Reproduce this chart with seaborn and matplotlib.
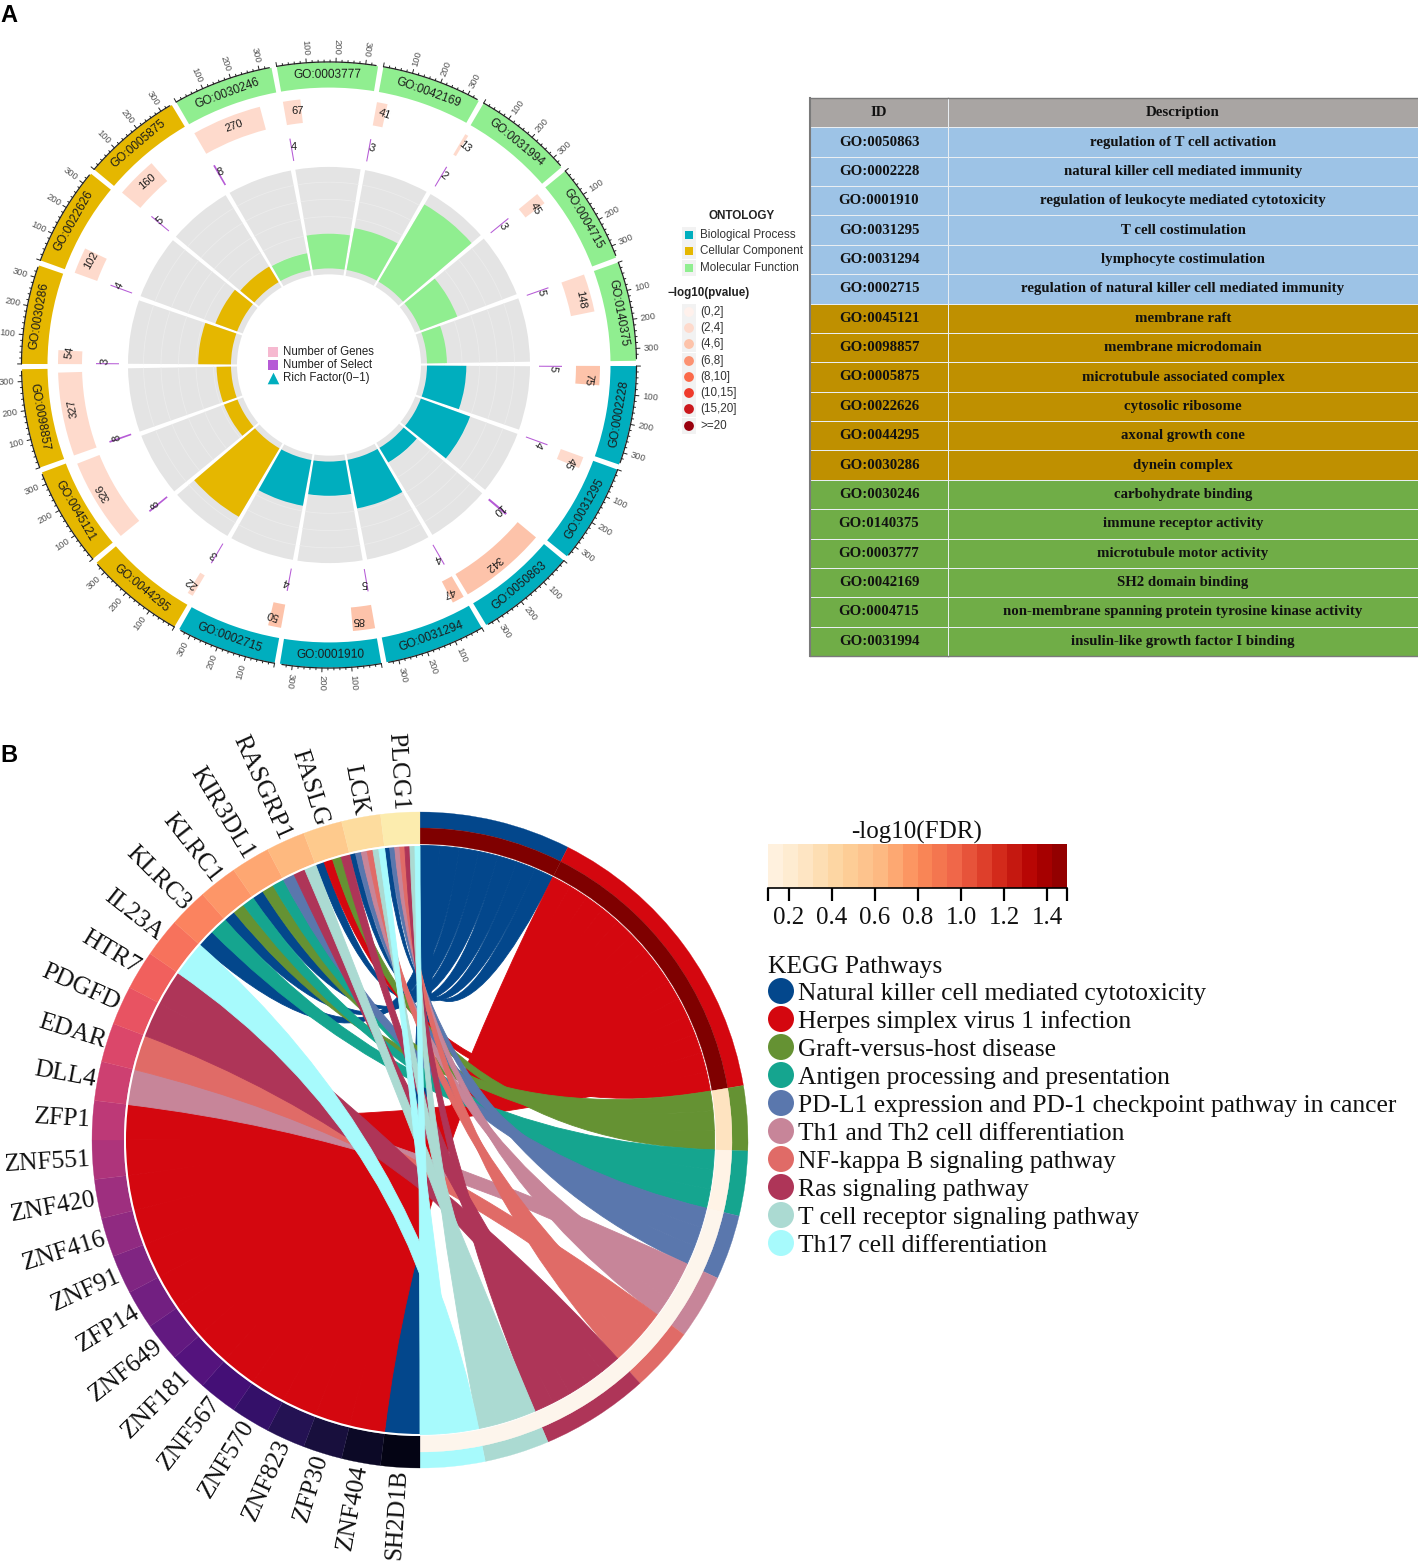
import numpy as np
import pandas as pd
import seaborn as sns
import matplotlib
matplotlib.use('Agg')
import matplotlib.pyplot as plt
from matplotlib.colors import ListedColormap
from matplotlib.patches import PathPatch, Rectangle, Wedge
from matplotlib.path import Path

W, H = 1418, 1561
SANS = 'Liberation Sans'
SERIF = 'Liberation Serif'

# panel A, sectors clockwise from 3 o'clock
go_ids = ['GO:0002228', 'GO:0031295', 'GO:0050863', 'GO:0031294', 'GO:0001910', 'GO:0002715',
          'GO:0044295', 'GO:0045121', 'GO:0098857', 'GO:0030286', 'GO:0022626', 'GO:0005875',
          'GO:0030246', 'GO:0003777', 'GO:0042169', 'GO:0031994', 'GO:0004715', 'GO:0140375']
go_ontology = [0] * 6 + [1] * 6 + [2] * 6
n_genes = [75, 45, 342, 47, 85, 50, 22, 326, 327, 54, 102, 160, 270, 67, 41, 13, 45, 148]
n_select = [5, 4, 10, 4, 5, 4, 3, 8, 8, 3, 4, 5, 8, 4, 3, 2, 3, 5]
gene_pcat = [2, 1, 2, 2, 2, 2, 1, 1, 1, 1, 1, 1, 1, 1, 1, 1, 1, 1]
ontology_names = ['Biological Process', 'Cellular Component', 'Molecular Function']
ontology_colors = ['#00AEBE', '#E5B700', '#90EE90']
pvalue_labels = ['(0,2]', '(2,4]', '(4,6]', '(6,8]', '(8,10]', '(10,15]', '(15,20]', '>=20']
pvalue_colors = ['#FFF1EC', '#FEDACC', '#FDC3AA', '#FC9272', '#FB6A4A', '#EF3B2C', '#CB181D', '#99000D']

# table next to panel A
table_ids = ['GO:0050863', 'GO:0002228', 'GO:0001910', 'GO:0031295', 'GO:0031294', 'GO:0002715',
             'GO:0045121', 'GO:0098857', 'GO:0005875', 'GO:0022626', 'GO:0044295', 'GO:0030286',
             'GO:0030246', 'GO:0140375', 'GO:0003777', 'GO:0042169', 'GO:0004715', 'GO:0031994']
table_desc = ['regulation of T cell activation', 'natural killer cell mediated immunity',
              'regulation of leukocyte mediated cytotoxicity', 'T cell costimulation',
              'lymphocyte costimulation', 'regulation of natural killer cell mediated immunity',
              'membrane raft', 'membrane microdomain', 'microtubule associated complex',
              'cytosolic ribosome', 'axonal growth cone', 'dynein complex',
              'carbohydrate binding', 'immune receptor activity', 'microtubule motor activity',
              'SH2 domain binding', 'non-membrane spanning protein tyrosine kinase activity',
              'insulin-like growth factor I binding']
table_colors = ['#A9A5A3', '#9DC3E6', '#BF9000', '#70AD47']

# panel B, genes clockwise from 6 o'clock
genes = ['SH2D1B', 'ZNF404', 'ZFP30', 'ZNF823', 'ZNF570', 'ZNF567', 'ZNF181', 'ZNF649', 'ZFP14',
         'ZNF91', 'ZNF416', 'ZNF420', 'ZNF551', 'ZFP1', 'DLL4', 'EDAR', 'PDGFD', 'HTR7', 'IL23A',
         'KLRC3', 'KLRC1', 'KIR3DL1', 'RASGRP1', 'FASLG', 'LCK', 'PLCG1']
pathways = ['Natural killer cell mediated cytotoxicity', 'Herpes simplex virus 1 infection',
            'Graft-versus-host disease', 'Antigen processing and presentation',
            'PD-L1 expression and PD-1 checkpoint pathway in cancer', 'Th1 and Th2 cell differentiation',
            'NF-kappa B signaling pathway', 'Ras signaling pathway', 'T cell receptor signaling pathway',
            'Th17 cell differentiation']
pathway_colors = ['#03478C', '#D4070F', '#659233', '#15A58F', '#5A77AD', '#C78599', '#E06B67',
                  '#AE3558', '#ABDAD2', '#A7FAFC']
pathway_fdr = ['#7F0000', '#7F0000', '#FEE3C0', '#FFF3E6', '#FDF5EC', '#FDF5EC', '#FDF5EC', '#FDF5EC',
               '#FDF5EC', '#FDF5EC']
# pathway indices of each gene, same order as genes
gene_links = [[0]] + [[1]] * 13 + [[5], [6], [7], [7], [9], [0, 3], [0, 2, 3], [0, 2, 3], [4, 7, 8],
                                   [0, 1, 2, 7], [0, 4, 5, 6, 8, 9], [0, 4, 5, 6, 7, 8, 9]]

fdr_ticks = [0.2, 0.4, 0.6, 0.8, 1.0, 1.2, 1.4]
fdr_range = [0.102, 1.493]
fdr_cells = 20

sns.set_theme(style='white')
plt.rcParams['font.family'] = [SANS, 'DejaVu Sans']


def box(left, top, width, height):
    return [left / W, 1 - (top + height) / H, width / W, height / H]


fig = plt.figure(figsize=(W / 100, H / 100), dpi=100)

# -------------------- panel A, circular plot --------------------
cx, cy, rx, ry = 329, 365, 345, 340
ax = fig.add_axes(box(cx - rx, cy - ry, 2 * rx, 2 * ry), projection='polar')
ax.set_aspect('auto')
ax.set_theta_zero_location('E')
ax.set_theta_direction(-1)
ax.set_ylim(0, rx)
ax.axis('off')

span = 19.0
unit = span / 342
for i, go in enumerate(go_ids):
    start = 20 * i + 0.2
    col = ontology_colors[go_ontology[i]]
    mid = start + span / 2
    mid_math = -mid

    # id band and its labels
    ax.bar(np.deg2rad(start), 25.5, width=np.deg2rad(span), bottom=281.5, align='edge', color=col, lw=0)
    rot = mid_math - 90 if np.sin(np.deg2rad(mid_math)) > 0 else mid_math + 90
    ax.text(np.deg2rad(mid), 294, go, rotation=rot, rotation_mode='anchor', ha='center', va='center',
            fontsize=8.6, color='#1c1c1c')

    # axis on top of the band
    ticks = np.arange(0, 340, 20)
    ax.plot(np.deg2rad(start + np.linspace(0, 335, 40) * unit), [307.5] * 40, color='#222222', lw=0.9)
    for t in ticks:
        th = np.deg2rad(start + t * unit)
        ax.plot([th, th], [307.5, 311.5 if t % 100 == 0 else 309.5], color='#222222', lw=0.7)
    flip = np.cos(np.deg2rad(mid_math)) < -1e-6
    for t in [100, 200, 300]:
        deg = start + t * unit
        ax.text(np.deg2rad(deg), 315, str(t), rotation=-deg + (180 if flip else 0), rotation_mode='anchor',
                ha='right' if flip else 'left', va='center', fontsize=6.8, color='#555555')

    # number of genes
    w_g = n_genes[i] * unit
    ax.bar(np.deg2rad(start), 24, width=np.deg2rad(w_g), bottom=247, align='edge',
           color=pvalue_colors[gene_pcat[i]], lw=0)
    ax.text(np.deg2rad(start + w_g / 2 + 1.0), 260, str(n_genes[i]), rotation=mid_math - 90,
            rotation_mode='anchor', ha='center', va='center', fontsize=8, color='#1c1c1c')

    # number of select
    w_s = n_select[i] * unit
    ax.bar(np.deg2rad(start), 23, width=np.deg2rad(max(w_s, 0.28)), bottom=210, align='edge', color='#B65BD6', lw=0)
    ax.text(np.deg2rad(start + 0.7), 224, str(n_select[i]), rotation=mid_math - 90, rotation_mode='anchor',
            ha='center', va='center', fontsize=8, color='#1c1c1c')

    # rich factor on grey
    ax.bar(np.deg2rad(start + 0.15), 109, width=np.deg2rad(span - 0.3), bottom=92, align='edge', color='#E4E4E4', lw=0)
    for k in range(1, 6):
        ax.plot(np.deg2rad(np.linspace(start + 0.15, start + span - 0.15, 20)), [98 + 17.5 * k] * 20,
                color='#ECECEC', lw=0.6)
    rich = n_select[i] / n_genes[i]
    ax.bar(np.deg2rad(start + 0.15), rich * 590, width=np.deg2rad(span - 0.3), bottom=98, align='edge',
           color=col, lw=0, zorder=3)

# pixel overlay for legends and panel letters
ov = fig.add_axes([0, 0, 1, 1])
ov.set_xlim(0, W)
ov.set_ylim(H, 0)
ov.axis('off')
ov.patch.set_alpha(0)

ov.text(0, 15, 'A', fontsize=17, fontweight='bold', va='center', color='black')
ov.text(0, 755, 'B', fontsize=17, fontweight='bold', va='center', color='black')

# legend in the hole
for y, label, col in zip([352, 365, 378], ['Number of Genes', 'Number of Select', 'Rich Factor(0\u22121)'],
                         ['#F6B9D0', '#B65BD6', '#00AEBE']):
    if y < 378:
        ov.add_patch(Rectangle((268, y - 5), 10, 10, color=col, lw=0))
    else:
        ov.scatter([273], [y], marker='^', s=70, color=col, lw=0)
    ov.text(283, y, label, fontsize=8.3, va='center', color='#222222')

# ontology legend
ov.text(742, 216, 'ONTOLOGY', fontsize=8.4, fontweight='bold', ha='center', va='center', color='#222222')
for y, label, col in zip([235, 251, 268], ontology_names, ontology_colors):
    ov.add_patch(Rectangle((682, y - 8), 14, 16.3, color='#F2F2F2', lw=0))
    ov.add_patch(Rectangle((685, y - 4), 8, 8, color=col, lw=0))
    ov.text(700, y, label, fontsize=8.4, va='center', color='#333333')

ov.text(668, 293, '\u2212log10(pvalue)', fontsize=8.4, fontweight='bold', va='center', color='#222222')
pv_y = [312, 328, 344, 361, 377, 393, 409, 426]
for y in pv_y:
    ov.add_patch(Rectangle((682, y - 8), 14, 16.3, color='#F2F2F2', lw=0))
legend_dots = pd.DataFrame({'x': [689] * len(pv_y), 'y': pv_y, 'label': pvalue_labels})
sns.scatterplot(data=legend_dots, x='x', y='y', hue='label', palette=pvalue_colors, s=50, linewidth=0,
                legend=False, ax=ov)
for y, label in zip(pv_y, pvalue_labels):
    ov.text(700, y, label, fontsize=8.4, va='center', color='#333333')

# -------------------- table --------------------
row_cat = np.array([0] + [1] * 6 + [2] * 6 + [3] * 6)
table_cmap = ListedColormap(table_colors)
t_top, t_h = 98, 558
id_ax = fig.add_axes(box(810, t_top, 138, t_h))
desc_ax = fig.add_axes(box(948, t_top, 470, t_h))
columns = [(id_ax, ['ID'] + table_ids), (desc_ax, ['Description'] + table_desc)]
for t_ax, labels in columns:
    sns.heatmap(row_cat[:, None], annot=np.array(labels)[:, None], fmt='', cmap=table_cmap, vmin=0, vmax=3,
                cbar=False, linewidths=0.6, linecolor='#E9EEF2', xticklabels=False, yticklabels=False, ax=t_ax,
                annot_kws={'family': SERIF, 'fontweight': 'bold', 'fontsize': 10.7, 'color': '#111111'})
    for side in ['top', 'bottom']:
        t_ax.spines[side].set_visible(True)
        t_ax.spines[side].set_color('#7A7A7A')
        t_ax.spines[side].set_linewidth(1)
id_ax.spines['left'].set_visible(True)
id_ax.spines['left'].set_color('#7A7A7A')
id_ax.spines['left'].set_linewidth(1.5)

# -------------------- panel B, chord diagram --------------------
R_out, R_mid, R_in, R_link = 328, 312, 296, 294.5
ch = fig.add_axes(box(0, 720, 760, 841))
ch.set_xlim(-420, 340)
ch.set_ylim(-421, 420)
ch.axis('off')
ch.patch.set_alpha(0)


def arc_pts(a, b, n=12, r=R_link):
    t = np.deg2rad(90 - np.linspace(a, b, n))
    return np.column_stack([r * np.cos(t), r * np.sin(t)])


def link_patch(a0, a1, c0, c1, color):
    # ribbon between gene end a0..a1 and pathway end c0..c1, control point in the centre of the circle
    left = arc_pts(a1, a0)
    right = arc_pts(c1, c0)
    verts = [right[-1], (0, 0), left[0]] + list(left[1:]) + [(0, 0), right[0]] + list(right[1:])
    codes = [Path.MOVETO, Path.CURVE3, Path.CURVE3] + [Path.LINETO] * (len(left) - 1) + \
            [Path.CURVE3, Path.CURVE3] + [Path.LINETO] * (len(right) - 1)
    return PathPatch(Path(verts, codes), facecolor=color, edgecolor=color, lw=0.6)


gene_step = 180 / len(genes)
link_step = 180 / sum(len(links) for links in gene_links)
ends = {p: [] for p in range(len(pathways))}
for g, links in enumerate(gene_links):
    for k, p in enumerate(links):
        a0 = 180 + gene_step * (g + k / len(links))
        ends[p].append((a0, a0 + gene_step / len(links)))

pos = 0
for p, color in enumerate(pathway_colors):
    p0 = pos
    for a0, a1 in ends[p]:
        ch.add_patch(link_patch(a0, a1, pos, pos + link_step, color))
        pos += link_step
    ch.add_patch(Wedge((0, 0), R_out, 90 - pos, 90 - p0, width=R_out - R_mid, fc=color, ec=color, lw=0.2))
    ch.add_patch(Wedge((0, 0), R_mid, 90 - pos, 90 - p0, width=R_mid - R_in, fc=pathway_fdr[p], ec=pathway_fdr[p], lw=0.2))

gene_colors = sns.color_palette('magma', len(genes))
for g, name in enumerate(genes):
    a0 = 180 + gene_step * g
    a1 = a0 + gene_step
    ch.add_patch(Wedge((0, 0), R_out, 90 - a1, 90 - a0, width=R_out - R_in, fc=gene_colors[g], ec=gene_colors[g], lw=0.2))
    mid = np.deg2rad(90 - (a0 + a1) / 2)
    ch.text(330 * np.cos(mid), 330 * np.sin(mid), name, rotation=np.rad2deg(mid) - 180, rotation_mode='anchor',
            ha='right', va='center', family=SERIF, fontsize=17.8 if g == 0 else 18.4, color='#111111')
ch.add_patch(Wedge((0, 0), R_in, 90 - 360, 90 - 180, width=2, fc='white', ec='none'))

# colour bar
fdr_ax = fig.add_axes(box(768, 844, 299, 43.5))
sns.heatmap(np.arange(fdr_cells)[None, :], cmap=sns.color_palette('OrRd', fdr_cells), cbar=False,
            xticklabels=False, yticklabels=False, ax=fdr_ax)
to_cell = lambda v: (v - fdr_range[0]) / (fdr_range[1] - fdr_range[0]) * fdr_cells
fdr_ax.set_xticks([0] + [to_cell(v) for v in fdr_ticks] + [fdr_cells])
fdr_ax.set_xticklabels([''] + [f'{v:.1f}' for v in fdr_ticks] + [''], family=SERIF, fontsize=18, color='#111111')
fdr_ax.tick_params(axis='x', bottom=True, length=9, width=1.6, color='black', pad=5)
fdr_ax.spines['bottom'].set_visible(True)
fdr_ax.spines['bottom'].set_color('black')
fdr_ax.spines['bottom'].set_linewidth(1.2)
ov.text(917, 832, '-log10(FDR)', family=SERIF, fontsize=18, ha='center', va='center', color='#111111')

# pathway legend
ov.text(768, 967, 'KEGG Pathways', family=SERIF, fontsize=18.4, va='center', color='#111111')
leg_y = [991 + 28 * i for i in range(len(pathways))]
leg = pd.DataFrame({'x': [781] * len(pathways), 'y': leg_y, 'name': pathways})
sns.scatterplot(data=leg, x='x', y='y', hue='name', palette=pathway_colors, s=350, linewidth=0, legend=False, ax=ov)
ov.set_xlim(0, W)
ov.set_ylim(H, 0)
ov.set_xlabel('')
ov.set_ylabel('')
for y, name in zip(leg_y, pathways):
    ov.text(798, y + 3, name, family=SERIF, fontsize=18.4, va='center', color='#111111')

fig.savefig('out.png', dpi=100, facecolor='white')
